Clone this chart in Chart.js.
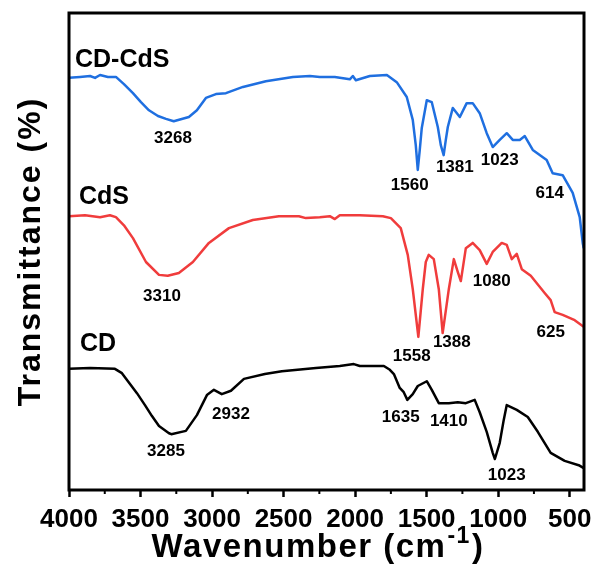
<!DOCTYPE html>
<html><head><meta charset="utf-8">
<script src="https://cdn.jsdelivr.net/npm/chart.js@4.4.1/dist/chart.umd.min.js"></script>
<style>html,body{margin:0;padding:0;background:#fff}#wrap{width:594px;height:565px}</style>
</head><body><div id="wrap"><canvas id="c" width="594" height="565"></canvas></div>
<script>
const FONT = '"Liberation Sans", Arial, Helvetica, sans-serif';

// ---- data (wavenumber, cm-1 ; transmittance, offset arbitrary %) ----
const cdcdsWn = [4000,3923,3853,3818,3783,3728,3672,3616,3553,3497,3441,3378,3322,3268,3162,3106,3043,2973,2903,2784,2624,2435,2316,2247,2142,2037,2016,1995,1897,1778,1709,1639,1597,1576,1562,1548,1534,1499,1464,1422,1401,1381,1366,1352,1317,1268,1220,1178,1129,1080,1038,989,940,898,849,814,758,661,619,549,479,430,409,402];
const cdcdsT  = [86.4,86.6,86.8,86.4,87.0,86.6,86.6,85.1,83.2,81.3,79.6,78.4,77.8,77.3,78.2,79.6,82.2,83.0,83.2,84.5,85.7,86.6,86.8,86.6,86.6,86.1,86.8,85.9,86.8,87.0,85.5,82.4,77.6,72.3,67.1,71.3,75.9,81.7,81.3,76.1,72.3,70.2,73.4,76.1,80.1,78.2,81.1,81.1,79.0,74.8,71.9,73.4,74.8,73.4,73.4,74.2,71.3,69.2,66.4,66.0,62.3,57.2,51.8,50.7];

const cdsWn = [4000,3888,3783,3714,3672,3616,3553,3462,3371,3310,3232,3134,3022,2882,2715,2533,2393,2344,2247,2177,2142,2107,1967,1806,1750,1681,1632,1597,1558,1527,1506,1485,1450,1415,1388,1345,1310,1282,1261,1226,1178,1129,1080,1038,975,940,905,870,835,772,675,633,605,549,465,402];
const cdsT  = [57.4,57.6,57.2,57.6,57.2,55.5,52.8,47.8,45.1,44.9,45.5,47.8,51.8,54.9,56.6,57.4,57.4,57.0,57.2,57.4,56.8,57.6,57.6,57.4,57.0,54.9,49.3,42.1,32.1,42.1,47.8,49.3,48.4,42.1,32.9,42.1,48.4,45.7,43.8,50.7,51.8,50.3,47.4,49.9,51.8,51.4,48.4,49.5,46.3,44.9,41.3,39.8,37.3,36.7,35.6,34.2];

const cdWn = [4000,3853,3679,3630,3588,3525,3469,3420,3371,3301,3285,3183,3106,3036,2987,2932,2868,2777,2631,2512,2274,2107,2009,1967,1799,1757,1729,1688,1660,1635,1597,1562,1499,1464,1415,1345,1282,1226,1164,1129,1080,1038,1023,989,961,940,870,793,723,633,535,437,402];
const cdT  = [25.4,25.6,25.4,24.5,22.8,20.3,17.8,15.5,13.4,11.9,11.7,12.4,15.7,19.9,21.0,20.1,20.8,23.3,24.3,24.9,25.6,26.0,26.4,26.0,26.0,25.2,24.3,21.4,20.5,18.9,20.1,21.8,22.8,21.0,18.2,18.2,18.4,18.2,18.9,16.3,12.2,7.8,6.5,9.9,14.7,17.8,16.8,15.3,12.2,7.8,6.1,5.2,4.6];

const xTicks = [4000,3500,3000,2500,2000,1500,1000,500];
const xMinorTicks = [3750,3250,2750,2250,1750,1250,750];

const nameText = ['CD-CdS','CdS','CD'];
const nameWn   = [3958,3930,3923];
const nameT    = [90.1,61.4,30.6];

const peakText = ['3268','1560','1381','1023','614','3310','1558','1388','1080','625','3285','2932','1635','1410','1023'];
const peakWn   = [3273,1618,1303,989,640,3350,1604,1324,1045,633,3322,2868,1681,1345,940];
const peakT    = [73.8,63.9,67.7,69.2,62.3,40.7,28.1,31.0,43.8,33.1,8.2,15.9,15.3,14.3,3.1];

const yTitle = 'Transmittance (%)';
const xTitleMain = 'Wavenumber (cm', xTitleSup = '-1', xTitleEnd = ')';

const toXY = (w,t) => w.map((v,i)=>({x:v,y:t[i]}));

const decor = {
  id:'decor',
  afterDatasetsDraw(chart){
    const {ctx, chartArea:a, scales:{x,y}} = chart;
    ctx.save();
    ctx.fillStyle = '#000';
    ctx.textBaseline = 'middle';
    ctx.font = `bold 25px ${FONT}`;
    ctx.textAlign = 'left';
    nameText.forEach((n,i)=>ctx.fillText(n, x.getPixelForValue(nameWn[i]), y.getPixelForValue(nameT[i])));
    ctx.font = `bold 17px ${FONT}`;
    ctx.textAlign = 'center';
    peakText.forEach((n,i)=>ctx.fillText(n, x.getPixelForValue(peakWn[i]), y.getPixelForValue(peakT[i])));
    // frame
    ctx.lineWidth = 3; ctx.strokeStyle = '#000';
    ctx.strokeRect(a.left, a.top, a.right-a.left, a.bottom-a.top);
    // minor ticks
    ctx.lineWidth = 2;
    xMinorTicks.forEach(v=>{const px=x.getPixelForValue(v); ctx.beginPath(); ctx.moveTo(px,a.bottom); ctx.lineTo(px,a.bottom+4); ctx.stroke();});
    // y title
    ctx.save();
    ctx.letterSpacing = '2px';
    ctx.font = `bold 32px ${FONT}`;
    ctx.translate(31, (a.top+a.bottom)/2);
    ctx.rotate(-Math.PI/2);
    ctx.textAlign = 'center'; ctx.textBaseline = 'middle';
    ctx.fillText(yTitle, 0, 0);
    ctx.restore();
    // x title with superscript
    ctx.save();
    ctx.letterSpacing = '1.5px';
    const fMain = `bold 33px ${FONT}`, fSup = `bold 23px ${FONT}`;
    ctx.font = fMain; const w1 = ctx.measureText(xTitleMain).width, w3 = ctx.measureText(xTitleEnd).width;
    ctx.font = fSup; const w2 = ctx.measureText(xTitleSup).width;
    const sx = 317 - (w1+w2+w3)/2;
    const base = 557;
    ctx.textAlign = 'left'; ctx.textBaseline = 'alphabetic';
    ctx.font = fMain; ctx.fillText(xTitleMain, sx, base);
    ctx.font = fSup; ctx.fillText(xTitleSup, sx+w1+1, base-14);
    ctx.font = fMain; ctx.fillText(xTitleEnd, sx+w1+w2+2, base);
    ctx.restore();
    ctx.restore();
  }
};

new Chart(document.getElementById('c'), {
  type:'line',
  data:{datasets:[
    {label:'CD-CdS', data:toXY(cdcdsWn,cdcdsT), borderColor:'#1f6fe0'},
    {label:'CdS', data:toXY(cdsWn,cdsT), borderColor:'#f03c3c'},
    {label:'CD', data:toXY(cdWn,cdT), borderColor:'#000000'}
  ]},
  options:{
    responsive:false, animation:false, devicePixelRatio:1,
    parsing:false,
    elements:{line:{borderWidth:2.5, tension:0, borderJoinStyle:'round'}, point:{radius:0}},
    layout:{padding:{top:13,right:10,bottom:0,left:0}},
    plugins:{legend:{display:false}, tooltip:{enabled:false}},
    scales:{
      x:{type:'linear', reverse:true, min:400, max:4000,
        afterBuildTicks:s=>{s.ticks = xTicks.map(v=>({value:v}));},
        ticks:{font:{family:FONT,size:26,weight:'bold'}, color:'#000', padding:7, maxRotation:0, autoSkip:false, callback:v=>String(v)},
        grid:{display:true, drawOnChartArea:false, tickLength:7, tickWidth:2.5, tickColor:'#000'},
        border:{display:false},
        afterFit:s=>{s.height=75; s.paddingLeft=0; s.paddingRight=0;}
      },
      y:{min:0, max:100,
        ticks:{display:false}, grid:{display:false}, border:{display:false},
        title:{display:false},
        afterFit:s=>{s.width=69;}
      }
    }
  },
  plugins:[decor]
});
</script></body></html>
